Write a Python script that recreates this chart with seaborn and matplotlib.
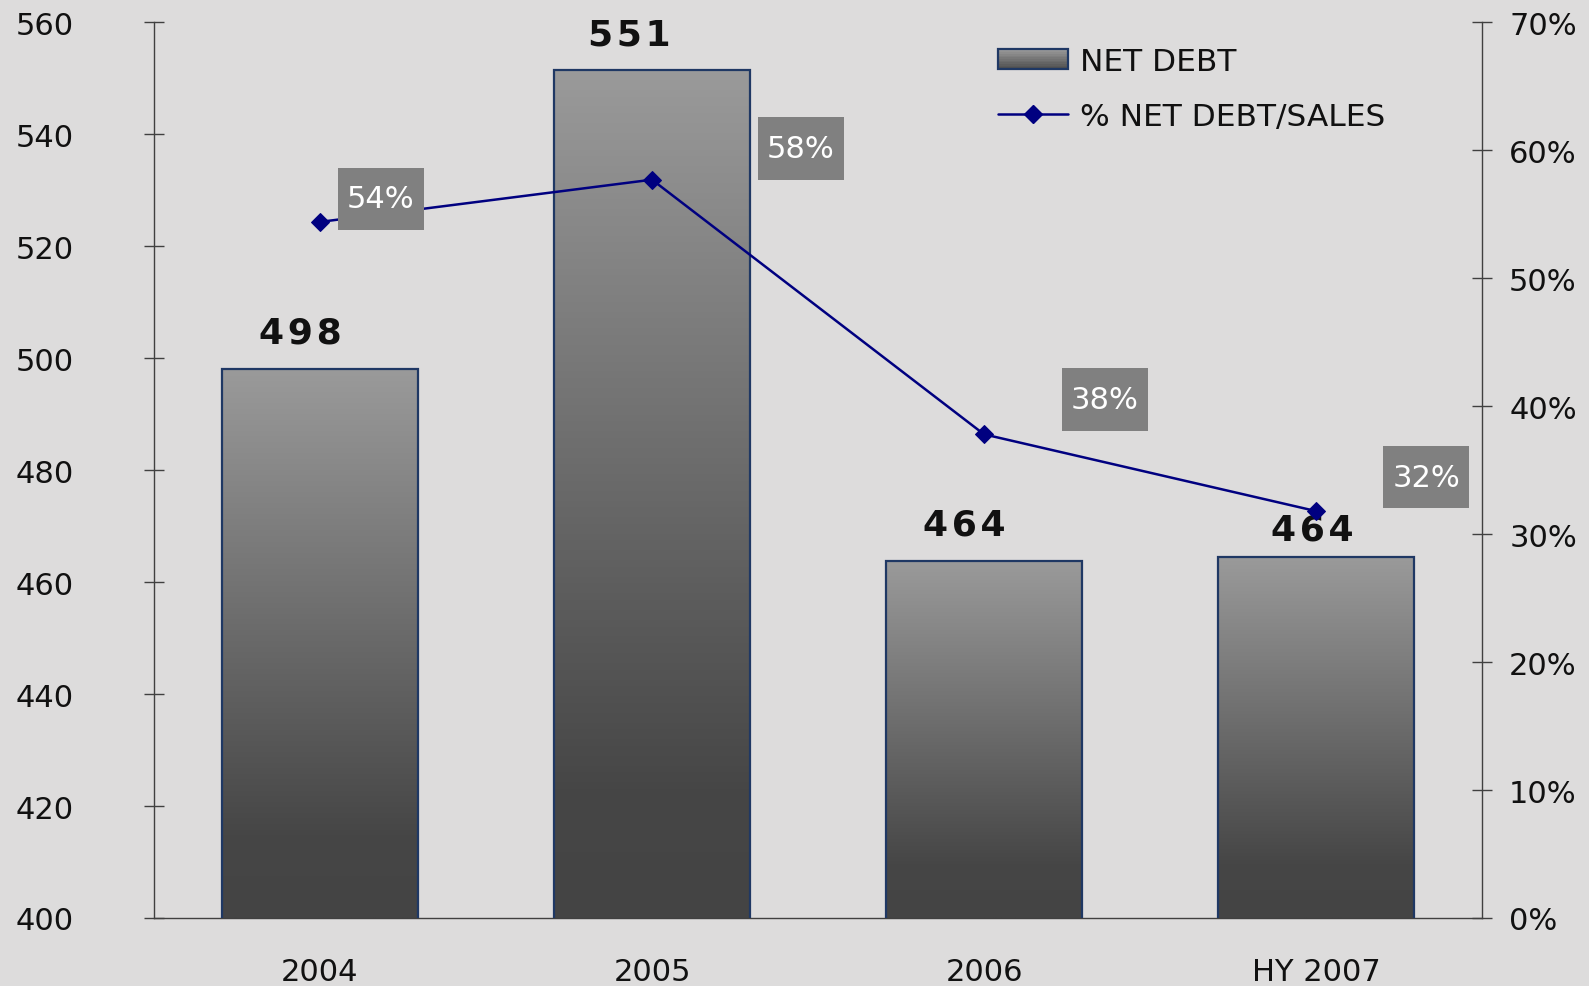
import numpy as np
import matplotlib
matplotlib.use("Agg")
import matplotlib.pyplot as plt
import seaborn as sns
from matplotlib.patches import Patch, Rectangle
from matplotlib.lines import Line2D
from matplotlib.path import Path
from matplotlib.colors import LinearSegmentedColormap
from matplotlib.legend_handler import HandlerBase

# data
periods = ["2004", "2005", "2006", "HY 2007"]
net_debt = [498.0, 551.4, 463.7, 464.4]
debt_to_sales = [54.4, 57.7, 37.8, 31.8]

left_ticks = [400, 420, 440, 460, 480, 500, 520, 540, 560]
right_ticks = [0, 10, 20, 30, 40, 50, 60, 70]

# label offsets (pixels) as placed in the original
bar_label_offsets = [(-20, 37), (-23, 36), (-20, 37), (-4, 28)]
pct_label_offsets = [(61, 23), (149, 31), (121, 35), (110, 34)]

BG = "#dddcdc"
EDGE = "#1f3864"
LINE = "#000080"
AXIS = "#404040"

sns.set_style("white")
plt.rcParams["font.family"] = ["DejaVu Sans"]
plt.rcParams["text.color"] = "#111111"

grad_cmap = LinearSegmentedColormap.from_list(
    "bar", [(0.0, "#444444"), (0.15, "#464646"), (1.0, "#9a9a9a")])


def tall_box(x0, y0, width, height, mutation_size):
    # grey label box, taller than matplotlib's square style
    px = 0.3 * mutation_size
    py = 0.55 * mutation_size
    x0, y0 = x0 - px, y0 - py
    x1, y1 = x0 + width + 2 * px, y0 + height + 2 * py
    return Path([(x0, y0), (x1, y0), (x1, y1), (x0, y1), (x0, y0)], closed=True)


class GradientPatchHandler(HandlerBase):
    """Legend key drawn as a grey gradient like the bars."""
    def create_artists(self, legend, orig_handle, xdescent, ydescent,
                       width, height, fontsize, trans):
        arts = []
        n = 12
        for k in range(n):
            c = grad_cmap(0.25 + 0.75 * k / (n - 1))
            arts.append(Rectangle((-xdescent, -ydescent + k * height / n),
                                  width, height / n * 1.05, facecolor=c,
                                  edgecolor="none", transform=trans))
        arts.append(Rectangle((-xdescent, -ydescent), width, height,
                              facecolor="none", edgecolor=EDGE, linewidth=1.6,
                              transform=trans))
        return arts


fig = plt.figure(figsize=(15.89, 9.87), dpi=100, facecolor=BG)
ax = fig.add_axes([0.0969, 0.0689, 0.8358, 0.9075])
ax.set_facecolor("none")

sns.barplot(x=periods, y=net_debt, color="#777777", width=0.592,
            edgecolor=EDGE, linewidth=1.6, ax=ax, zorder=3)

ymin, ymax = 400, 560

# vertical grey gradient inside each bar
grad = np.linspace(0, 1, 256).reshape(-1, 1)
for patch in ax.patches:
    x0 = patch.get_x()
    w = patch.get_width()
    top = patch.get_y() + patch.get_height()
    im = ax.imshow(grad, cmap=grad_cmap, origin="lower", aspect="auto",
                   extent=[x0, x0 + w, ymin, top], zorder=2)
    im.set_clip_path(patch)
    patch.set_facecolor("none")
ax.set_ylim(ymin, ymax)
ax.set_xlim(-0.5, 3.5)

for i, v in enumerate(net_debt):
    dx, dy = bar_label_offsets[i]
    label = "\u200a".join(f"{v:.0f}")
    ax.annotate(label, (i, v), xytext=(dx, dy), textcoords="offset pixels",
                ha="center", va="center", fontsize=26, fontweight="bold",
                color="#111111", zorder=5)

ax2 = ax.twinx()
ax2.set_facecolor("none")
sns.lineplot(x=np.arange(len(periods)), y=debt_to_sales, ax=ax2, color=LINE,
             marker="D", markersize=9, markeredgecolor=LINE, linewidth=1.8,
             zorder=4)
ax2.set_ylim(0, 70)
ax2.set_xlim(-0.5, 3.5)

for i, p in enumerate(debt_to_sales):
    dx, dy = pct_label_offsets[i]
    ax2.annotate(f"{p:.0f}%", (i, p), xytext=(dx, dy), textcoords="offset pixels",
                 ha="center", va="center", fontsize=22, color="white", zorder=6,
                 bbox=dict(boxstyle=tall_box, fc="#808080", ec="none"))

# axes, ticks
ax.set_yticks(left_ticks)
ax.tick_params(axis="y", direction="inout", length=15, width=1, pad=50,
               labelsize=22, color=AXIS, labelcolor="#111111")
ax.set_xticks([-0.5, 0.5, 1.5, 2.5, 3.5])
ax.set_xticklabels([])
ax.set_xticks(range(len(periods)), minor=True)
ax.set_xticklabels(periods, minor=True)
ax.tick_params(axis="x", which="major", direction="inout", length=15, width=1,
               color=AXIS)
ax.tick_params(axis="x", which="minor", length=0, pad=28, labelsize=22,
               labelcolor="#111111")
ax.set_xlabel("")
ax.set_ylabel("")

ax2.set_yticks(right_ticks)
ax2.yaxis.set_major_formatter(lambda v, pos: f"{v:.0f}%")
ax2.tick_params(axis="y", direction="inout", length=15, width=1, pad=12,
                labelsize=22, color=AXIS, labelcolor="#111111")
ax2.set_ylabel("")

for s in ["top", "right"]:
    ax.spines[s].set_visible(False)
for s in ["top", "left", "bottom"]:
    ax2.spines[s].set_visible(False)
for s in ["left", "bottom"]:
    ax.spines[s].set_color(AXIS)
    ax.spines[s].set_linewidth(1)
ax2.spines["right"].set_color(AXIS)
ax2.spines["right"].set_linewidth(1)

bar_key = Patch(facecolor="#6e6e6e", edgecolor=EDGE, linewidth=1.6)
line_key = Line2D([], [], color=LINE, marker="D", markersize=9, linewidth=1.8)
if ax2.get_legend() is not None:
    ax2.get_legend().remove()
fig.legend([bar_key, line_key], ["NET DEBT", "% NET DEBT/SALES"],
           handler_map={bar_key: GradientPatchHandler()},
           loc="upper left", bbox_to_anchor=(998 / 1589, 1 - 48 / 987),
           frameon=False, fontsize=22.5, handlelength=2.25, handleheight=0.6,
           handletextpad=0.36, labelspacing=0.83, borderpad=0,
           borderaxespad=0)

fig.savefig("out.png", dpi=100, facecolor=BG)
